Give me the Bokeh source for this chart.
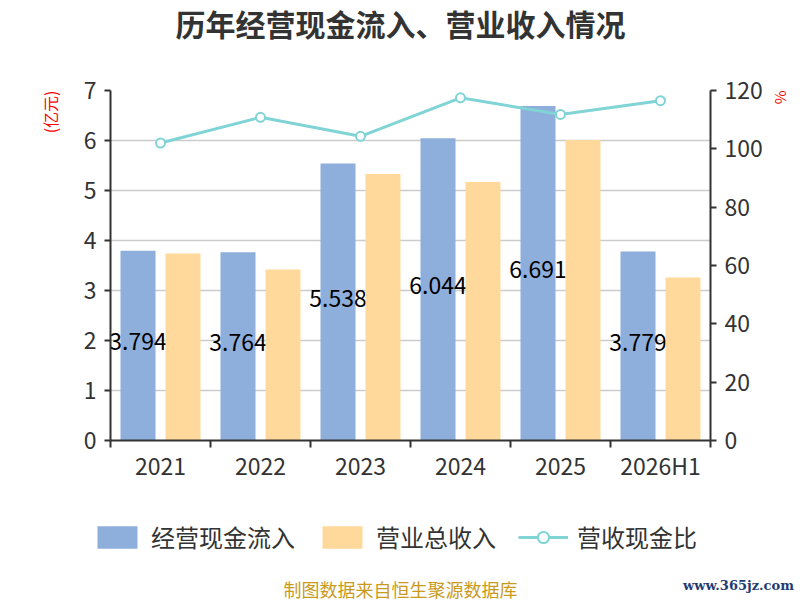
from bokeh.plotting import figure
from bokeh.layouts import column
from bokeh.models import (Range1d, LinearAxis, FixedTicker, ColumnDataSource, Label,
                          Legend, LegendItem, Title)
from bokeh.transform import dodge
from bokeh.core.properties import value
from bokeh.embed import file_html
from bokeh.resources import INLINE

# data
years = ["2021", "2022", "2023", "2024", "2025", "2026H1"]
cash_in = [3.794, 3.764, 5.538, 6.044, 6.691, 3.779]   # 经营现金流入 (亿元)
revenue = [3.74, 3.42, 5.33, 5.17, 6.01, 3.26]         # 营业总收入 (亿元)
ratio = [102.0, 110.8, 104.3, 117.5, 111.8, 116.5]     # 营收现金比 (%)
left_ticks = [0, 1, 2, 3, 4, 5, 6, 7]
right_ticks = [0, 20, 40, 60, 80, 100, 120]

FONT = "Noto Sans CJK SC"
BLUE = "#8eaedb"
ORANGE = "#fed99b"
TEAL = "#80d4d6"
DARK = "#333333"

pos = [i + 0.5 for i in range(len(years))]
src = ColumnDataSource(dict(
    pos=pos, year=years, cash=cash_in, rev=revenue, ratio=ratio,
    mid=[v / 2 for v in cash_in], lbl=["%.3f" % v for v in cash_in],
))


def strip(h):
    # plain figure with no axes, used for the title and the bottom notes
    f = figure(width=800, height=h, x_range=Range1d(0, 800), y_range=Range1d(0, h),
               x_axis_type=None, y_axis_type=None, output_backend="svg",
               toolbar_location=None, min_border=0, outline_line_color=None)
    f.grid.visible = False
    try:
        f.frame_align = False
    except AttributeError:
        pass
    return f


# title strip
t = strip(60)
t.add_layout(Label(x=400, y=38, text="历年经营现金流入、营业收入情况",
                   text_align="center", text_baseline="middle",
                   text_font=FONT, text_font_size="30px", text_font_style="bold",
                   text_color=DARK))

# main chart
p = figure(width=800, height=440, x_range=Range1d(0, len(years)),
           y_range=Range1d(0, left_ticks[-1]),
           output_backend="svg", toolbar_location=None,
           min_border_left=110, min_border_right=90, min_border_top=30,
           min_border_bottom=60, outline_line_color=None)
try:
    p.frame_align = False
except AttributeError:
    pass
p.extra_y_ranges = {"pct": Range1d(0, right_ticks[-1])}

# bars + labels (orange drawn after labels, so it covers them like the original)
p.vbar(x=dodge("pos", -0.225, range=p.x_range), top="cash", width=0.35,
       source=src, fill_color=BLUE, line_color=None)
p.text(x=dodge("pos", -0.225, range=p.x_range), y="mid", text="lbl", source=src,
       text_align="center", text_baseline="middle", text_color="black",
       text_font=value(FONT), text_font_size="23px", y_offset=-4)
p.vbar(x=dodge("pos", 0.225, range=p.x_range), top="rev", width=0.35,
       source=src, fill_color=ORANGE, line_color=None)

p.line("pos", "ratio", source=src, y_range_name="pct", line_color=TEAL, line_width=3)
p.scatter("pos", "ratio", source=src, y_range_name="pct", size=9,
          fill_color="white", line_color=TEAL, line_width=2)

# axes
for ax in [p.xaxis[0], p.yaxis[0]]:
    ax.axis_line_color = DARK
    ax.axis_line_width = 2
    ax.major_label_text_font = FONT
    ax.major_label_text_font_size = "23px"
    ax.major_label_text_color = DARK

p.yaxis.ticker = FixedTicker(ticks=left_ticks)
p.yaxis.major_label_standoff = 8
p.yaxis.major_tick_out = 6
p.yaxis.major_tick_in = 0
p.yaxis.major_tick_line_color = DARK
p.yaxis.major_tick_line_width = 2
p.yaxis.minor_tick_line_color = None

p.xaxis.ticker = FixedTicker(ticks=pos, minor_ticks=list(range(len(years) + 1)))
p.xaxis.major_label_overrides = {x: y for x, y in zip(pos, years)}
p.xaxis.major_label_standoff = 0
p.xaxis.major_tick_line_color = None
p.xaxis.major_tick_out = 0
p.xaxis.minor_tick_out = 7
p.xaxis.minor_tick_in = 0
p.xaxis.minor_tick_line_color = DARK
p.xaxis.minor_tick_line_width = 2

rax = LinearAxis(y_range_name="pct", ticker=FixedTicker(ticks=right_ticks))
rax.axis_line_color = DARK
rax.axis_line_width = 2
rax.major_tick_out = 6
rax.major_tick_in = 0
rax.major_tick_line_color = DARK
rax.major_tick_line_width = 2
rax.minor_tick_line_color = None
rax.major_label_text_font = FONT
rax.major_label_text_font_size = "23px"
rax.major_label_text_color = DARK
rax.major_label_standoff = 8
p.add_layout(rax, "right")

p.xgrid.visible = False
p.ygrid.ticker = FixedTicker(ticks=left_ticks)
p.ygrid.grid_line_color = "#cccccc"
p.ygrid.grid_line_width = 1.5

# unit names at the top of each axis
p.add_layout(Title(text="(亿元)", align="right", standoff=38, text_font=FONT,
                   text_font_size="16px", text_font_style="normal",
                   text_color="red"), "left")
p.add_layout(Title(text="%", align="left", standoff=10, text_font=FONT,
                   text_font_size="15px", text_font_style="normal",
                   text_color="red"), "right")

# bottom strip: legend and source notes
q = strip(100)
lb1 = q.vbar(x="pos", top="cash", width=0.35, source=src, fill_color=BLUE,
             line_color=None, visible=False)
lb2 = q.vbar(x="pos", top="rev", width=0.35, source=src, fill_color=ORANGE,
             line_color=None, visible=False)
lln = q.line("pos", "ratio", source=src, line_color=TEAL, line_width=3, visible=False)
lsc = q.scatter("pos", "ratio", source=src, size=22, fill_color="white",
                line_color=TEAL, line_width=2, visible=False)

legend = Legend(items=[
    LegendItem(label="经营现金流入", renderers=[lb1]),
    LegendItem(label="营业总收入", renderers=[lb2]),
    LegendItem(label="营收现金比", renderers=[lln, lsc]),
], orientation="horizontal", location=(92, 46),
    glyph_width=50, glyph_height=28, label_standoff=9, spacing=22,
    padding=5, margin=0, border_line_color=None, background_fill_alpha=0,
    label_text_font=FONT, label_text_font_size="24px", label_text_color=DARK)
q.add_layout(legend)

q.add_layout(Label(x=400, y=12, text="制图数据来自恒生聚源数据库",
                   text_align="center", text_baseline="middle",
                   text_font=FONT, text_font_size="18px", text_color="#c99a1c"))
q.add_layout(Label(x=738, y=15, text="www.365jz.com",
                   text_align="center", text_baseline="middle",
                   text_font="DejaVu Serif", text_font_size="13px",
                   text_font_style="bold", text_color="#1f3d73"))

layout = column(t, p, q, spacing=0)
open("out.html", "w").write(file_html(layout, INLINE))
